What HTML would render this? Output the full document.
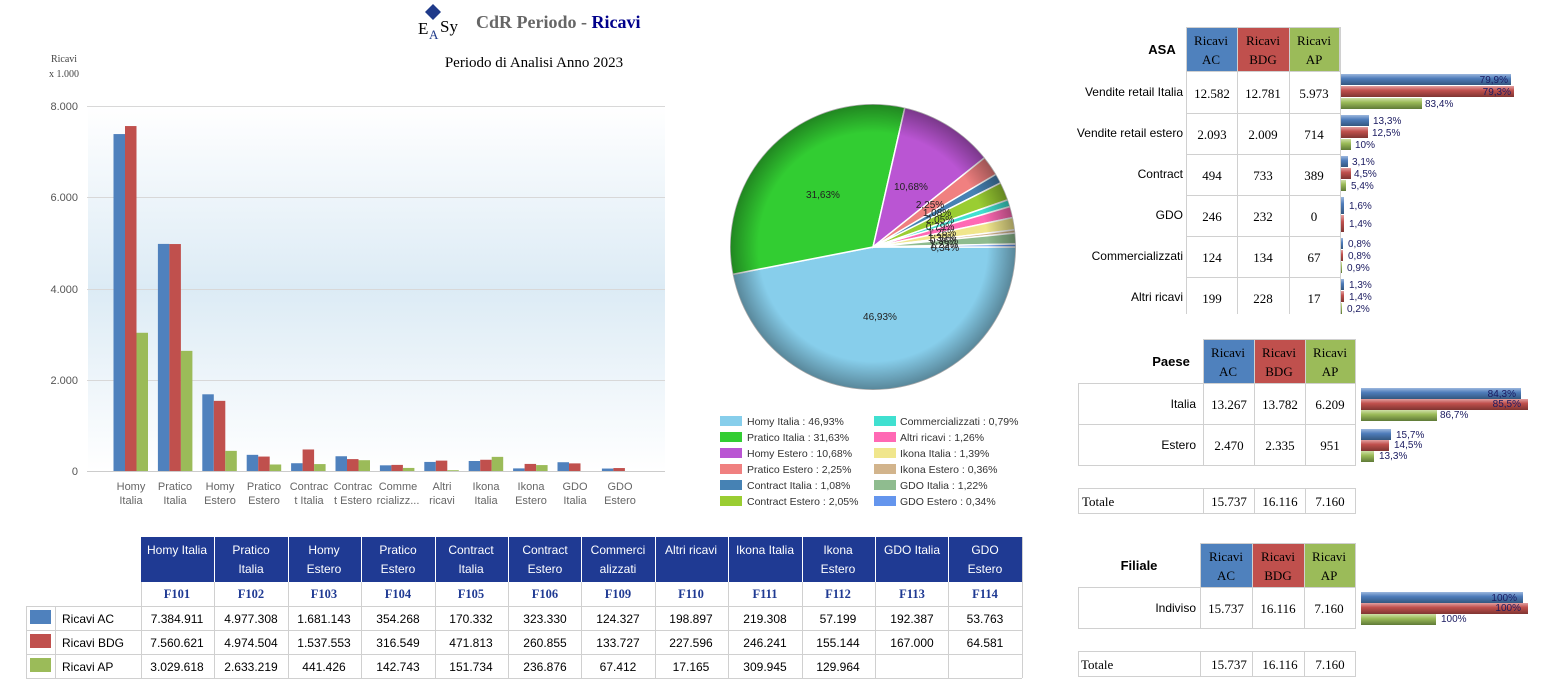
<!DOCTYPE html>
<html><head><meta charset="utf-8">
<style>
html,body{margin:0;padding:0;background:#fff;}
svg{display:block;}
.s{font-family:"Liberation Sans",sans-serif;}
.r{font-family:"Liberation Serif",serif;}
</style></head>
<body>
<svg id="sv" width="1559" height="691" viewBox="0 0 1559 691" xmlns="http://www.w3.org/2000/svg">
<defs>
<linearGradient id="bg" x1="0" y1="0" x2="0" y2="1">
<stop offset="0" stop-color="#ffffff"/><stop offset="0.5" stop-color="#dcebf5"/><stop offset="1" stop-color="#ffffff"/>
</linearGradient>
<linearGradient id="gb" x1="0" y1="0" x2="0" y2="1"><stop offset="0" stop-color="#9db8de"/><stop offset="0.4" stop-color="#4f7dbb"/><stop offset="1" stop-color="#34577f"/></linearGradient>
<linearGradient id="gr" x1="0" y1="0" x2="0" y2="1"><stop offset="0" stop-color="#e3a0a0"/><stop offset="0.4" stop-color="#c0504d"/><stop offset="1" stop-color="#7f3532"/></linearGradient>
<linearGradient id="gg" x1="0" y1="0" x2="0" y2="1"><stop offset="0" stop-color="#cfe0a8"/><stop offset="0.4" stop-color="#9bbb59"/><stop offset="1" stop-color="#5f7a38"/></linearGradient>
<radialGradient id="sh" cx="0.5" cy="0.5" r="0.5">
<stop offset="0.8" stop-color="#000" stop-opacity="0"/><stop offset="1" stop-color="#000" stop-opacity="0.35"/>
</radialGradient>
</defs>

<!-- title -->
<polygon points="433,4 441,12 433,20 425,12" fill="#1f3a8a"/>
<text x="418" y="34" class="r" font-size="17" fill="#000">E</text>
<text x="429" y="39" class="r" font-size="13" fill="#1f3a8a">A</text>
<text x="440" y="32" class="r" font-size="17" fill="#000">Sy</text>
<text x="476" y="28" class="r" font-size="18" font-weight="bold" fill="#666">CdR Periodo - <tspan fill="#00008b">Ricavi</tspan></text>
<text x="534" y="67" class="r" font-size="15" text-anchor="middle" fill="#000">Periodo di Analisi Anno 2023</text>
<text x="64" y="62" class="r" font-size="10" text-anchor="middle" fill="#444">Ricavi</text>
<text x="64" y="77" class="r" font-size="10" text-anchor="middle" fill="#444">x 1.000</text>

<!-- bar chart -->
<rect x="88" y="106" width="577" height="365" fill="url(#bg)"/>
<g stroke="#d8d8d8" stroke-width="1">
<line x1="87" y1="106.5" x2="665" y2="106.5"/><line x1="87" y1="197.5" x2="665" y2="197.5"/>
<line x1="87" y1="289.5" x2="665" y2="289.5"/><line x1="87" y1="380.5" x2="665" y2="380.5"/>
<line x1="87" y1="471.5" x2="665" y2="471.5" stroke="#ccc"/>
</g>
<g class="s" font-size="11" fill="#555" text-anchor="end">
<text x="78" y="110">8.000</text><text x="78" y="201">6.000</text><text x="78" y="293">4.000</text>
<text x="78" y="384">2.000</text><text x="78" y="475">0</text>
</g>
<g id="bars"></g>
<g class="s" font-size="11" fill="#666" text-anchor="middle">
<text x="131" y="490">Homy</text><text x="131" y="504">Italia</text>
<text x="175" y="490">Pratico</text><text x="175" y="504">Italia</text>
<text x="220" y="490">Homy</text><text x="220" y="504">Estero</text>
<text x="264" y="490">Pratico</text><text x="264" y="504">Estero</text>
<text x="309" y="490">Contrac</text><text x="309" y="504">t Italia</text>
<text x="353" y="490">Contrac</text><text x="353" y="504">t Estero</text>
<text x="398" y="490">Comme</text><text x="398" y="504">rcializz...</text>
<text x="442" y="490">Altri</text><text x="442" y="504">ricavi</text>
<text x="486" y="490">Ikona</text><text x="486" y="504">Italia</text>
<text x="531" y="490">Ikona</text><text x="531" y="504">Estero</text>
<text x="575" y="490">GDO</text><text x="575" y="504">Italia</text>
<text x="620" y="490">GDO</text><text x="620" y="504">Estero</text>
</g>

<!-- pie -->
<g id="pie"></g>
<ellipse cx="873" cy="247" rx="143" ry="143" fill="url(#sh)"/>
<g class="s" font-size="10" fill="#222" text-anchor="middle">
<text x="880" y="320">46,93%</text>
<text x="823" y="198">31,63%</text>
<text x="911" y="190">10,68%</text>
<text x="930" y="208">2,25%</text>
<text x="937" y="216">1,08%</text>
<text x="940" y="223">2,05%</text>
<text x="940" y="230">0,79%</text>
<text x="942" y="236">1,26%</text>
<text x="942" y="241">1,39%</text>
<text x="944" y="244">0,36%</text>
<text x="944" y="248">1,22%</text>
<text x="945" y="251">0,34%</text>
</g>
<!-- legend -->
<g class="s" font-size="10.5" fill="#333">
<rect x="720" y="416" width="22" height="10" fill="#87ceeb"/><text x="747" y="425">Homy Italia : 46,93%</text>
<rect x="720" y="432" width="22" height="10" fill="#32cd32"/><text x="747" y="441">Pratico Italia : 31,63%</text>
<rect x="720" y="448" width="22" height="10" fill="#ba55d3"/><text x="747" y="457">Homy Estero : 10,68%</text>
<rect x="720" y="464" width="22" height="10" fill="#f08080"/><text x="747" y="473">Pratico Estero : 2,25%</text>
<rect x="720" y="480" width="22" height="10" fill="#4682b4"/><text x="747" y="489">Contract Italia : 1,08%</text>
<rect x="720" y="496" width="22" height="10" fill="#9acd32"/><text x="747" y="505">Contract Estero : 2,05%</text>
<rect x="874" y="416" width="22" height="10" fill="#40e0d0"/><text x="900" y="425">Commercializzati : 0,79%</text>
<rect x="874" y="432" width="22" height="10" fill="#ff69b4"/><text x="900" y="441">Altri ricavi : 1,26%</text>
<rect x="874" y="448" width="22" height="10" fill="#f0e68c"/><text x="900" y="457">Ikona Italia : 1,39%</text>
<rect x="874" y="464" width="22" height="10" fill="#d2b48c"/><text x="900" y="473">Ikona Estero : 0,36%</text>
<rect x="874" y="480" width="22" height="10" fill="#8fbc8f"/><text x="900" y="489">GDO Italia : 1,22%</text>
<rect x="874" y="496" width="22" height="10" fill="#6495ed"/><text x="900" y="505">GDO Estero : 0,34%</text>
</g>

<!-- bottom table -->
<rect x="141" y="537" width="881" height="45" fill="#1f3a93"/>
<g stroke="#d0d0d0" stroke-width="1" fill="none">
<line x1="141" y1="606.5" x2="1022" y2="606.5"/>
<line x1="26" y1="606.5" x2="141" y2="606.5"/>
<line x1="26" y1="630.5" x2="1022" y2="630.5"/>
<line x1="26" y1="654.5" x2="1022" y2="654.5"/>
<line x1="26" y1="678.5" x2="1022" y2="678.5"/>
<line x1="26.5" y1="606" x2="26.5" y2="678"/>
<line x1="55.5" y1="606" x2="55.5" y2="678"/>
<line x1="141.5" y1="582" x2="141.5" y2="678"/>
<line x1="1022.5" y1="537" x2="1022.5" y2="678"/>
</g>
<g id="vlines" stroke="#d0d0d0"></g>
<g stroke="#fff" stroke-width="1">
<line x1="214.5" y1="537" x2="214.5" y2="582"/><line x1="288.5" y1="537" x2="288.5" y2="582"/>
<line x1="361.5" y1="537" x2="361.5" y2="582"/><line x1="435.5" y1="537" x2="435.5" y2="582"/>
<line x1="508.5" y1="537" x2="508.5" y2="582"/><line x1="581.5" y1="537" x2="581.5" y2="582"/>
<line x1="655.5" y1="537" x2="655.5" y2="582"/><line x1="728.5" y1="537" x2="728.5" y2="582"/>
<line x1="802.5" y1="537" x2="802.5" y2="582"/><line x1="875.5" y1="537" x2="875.5" y2="582"/>
<line x1="948.5" y1="537" x2="948.5" y2="582"/>
</g>
<g stroke="#d0d0d0">
<line x1="214.5" y1="582" x2="214.5" y2="678"/><line x1="288.5" y1="582" x2="288.5" y2="678"/>
<line x1="361.5" y1="582" x2="361.5" y2="678"/><line x1="435.5" y1="582" x2="435.5" y2="678"/>
<line x1="508.5" y1="582" x2="508.5" y2="678"/><line x1="581.5" y1="582" x2="581.5" y2="678"/>
<line x1="655.5" y1="582" x2="655.5" y2="678"/><line x1="728.5" y1="582" x2="728.5" y2="678"/>
<line x1="802.5" y1="582" x2="802.5" y2="678"/><line x1="875.5" y1="582" x2="875.5" y2="678"/>
<line x1="948.5" y1="582" x2="948.5" y2="678"/>
</g>
<g class="s" font-size="12" fill="#fff" text-anchor="middle">
<text x="177" y="554">Homy Italia</text>
<text x="251" y="554">Pratico</text><text x="251" y="573">Italia</text>
<text x="324" y="554">Homy</text><text x="324" y="573">Estero</text>
<text x="398" y="554">Pratico</text><text x="398" y="573">Estero</text>
<text x="471" y="554">Contract</text><text x="471" y="573">Italia</text>
<text x="545" y="554">Contract</text><text x="545" y="573">Estero</text>
<text x="618" y="554">Commerci</text><text x="618" y="573">alizzati</text>
<text x="691" y="554">Altri ricavi</text>
<text x="765" y="554">Ikona Italia</text>
<text x="838" y="554">Ikona</text><text x="838" y="573">Estero</text>
<text x="912" y="554">GDO Italia</text>
<text x="985" y="554">GDO</text><text x="985" y="573">Estero</text>
</g>
<g class="r" font-size="12.5" font-weight="bold" fill="#1f3a93" text-anchor="middle">
<text x="177" y="598">F101</text><text x="251" y="598">F102</text><text x="324" y="598">F103</text>
<text x="398" y="598">F104</text><text x="471" y="598">F105</text><text x="545" y="598">F106</text>
<text x="618" y="598">F109</text><text x="691" y="598">F110</text><text x="765" y="598">F111</text>
<text x="838" y="598">F112</text><text x="912" y="598">F113</text><text x="985" y="598">F114</text>
</g>
<rect x="30" y="610" width="21" height="14" fill="#4f81bd"/>
<rect x="30" y="634" width="21" height="14" fill="#c0504d"/>
<rect x="30" y="658" width="21" height="14" fill="#9bbb59"/>
<g class="s" font-size="12" fill="#000">
<text x="62" y="623">Ricavi AC</text><text x="62" y="647">Ricavi BDG</text><text x="62" y="671">Ricavi AP</text>
</g>
<g class="s" font-size="12" fill="#000" text-anchor="middle">
<text x="177" y="623">7.384.911</text><text x="251" y="623">4.977.308</text><text x="324" y="623">1.681.143</text><text x="398" y="623">354.268</text><text x="471" y="623">170.332</text><text x="545" y="623">323.330</text><text x="618" y="623">124.327</text><text x="691" y="623">198.897</text><text x="765" y="623">219.308</text><text x="838" y="623">57.199</text><text x="912" y="623">192.387</text><text x="985" y="623">53.763</text>
<text x="177" y="647">7.560.621</text><text x="251" y="647">4.974.504</text><text x="324" y="647">1.537.553</text><text x="398" y="647">316.549</text><text x="471" y="647">471.813</text><text x="545" y="647">260.855</text><text x="618" y="647">133.727</text><text x="691" y="647">227.596</text><text x="765" y="647">246.241</text><text x="838" y="647">155.144</text><text x="912" y="647">167.000</text><text x="985" y="647">64.581</text>
<text x="177" y="671">3.029.618</text><text x="251" y="671">2.633.219</text><text x="324" y="671">441.426</text><text x="398" y="671">142.743</text><text x="471" y="671">151.734</text><text x="545" y="671">236.876</text><text x="618" y="671">67.412</text><text x="691" y="671">17.165</text><text x="765" y="671">309.945</text><text x="838" y="671">129.964</text>
</g>

<!-- ASA table -->
<rect x="1186" y="27" width="51" height="45" fill="#4f81bd"/>
<rect x="1237" y="27" width="52" height="45" fill="#c0504d"/>
<rect x="1289" y="27" width="51" height="45" fill="#9bbb59"/>
<g stroke="#d0d0d0" fill="none">
<rect x="1186.5" y="27.5" width="153" height="44"/>
<line x1="1186.5" y1="72" x2="1186.5" y2="314"/><line x1="1237.5" y1="27" x2="1237.5" y2="314"/>
<line x1="1289.5" y1="27" x2="1289.5" y2="314"/><line x1="1340.5" y1="27" x2="1340.5" y2="314"/>
<line x1="1186" y1="113.5" x2="1340" y2="113.5"/><line x1="1186" y1="154.5" x2="1340" y2="154.5"/>
<line x1="1186" y1="195.5" x2="1340" y2="195.5"/><line x1="1186" y1="236.5" x2="1340" y2="236.5"/>
<line x1="1186" y1="277.5" x2="1340" y2="277.5"/>
</g>
<g class="r" font-size="13" fill="#000" text-anchor="middle">
<text x="1211" y="45">Ricavi</text><text x="1211" y="64">AC</text>
<text x="1263" y="45">Ricavi</text><text x="1263" y="64">BDG</text>
<text x="1314" y="45">Ricavi</text><text x="1314" y="64">AP</text>
</g>
<text x="1162" y="54" class="s" font-size="13" font-weight="bold" text-anchor="middle">ASA</text>
<g class="s" font-size="12" fill="#000" text-anchor="end">
<text x="1183" y="96">Vendite retail Italia</text><text x="1183" y="137">Vendite retail estero</text>
<text x="1183" y="178">Contract</text><text x="1183" y="219">GDO</text>
<text x="1183" y="260">Commercializzati</text><text x="1183" y="301">Altri ricavi</text>
</g>
<g class="r" font-size="13" fill="#000" text-anchor="middle">
<text x="1212" y="98">12.582</text><text x="1263" y="98">12.781</text><text x="1314" y="98">5.973</text>
<text x="1212" y="139">2.093</text><text x="1263" y="139">2.009</text><text x="1314" y="139">714</text>
<text x="1212" y="180">494</text><text x="1263" y="180">733</text><text x="1314" y="180">389</text>
<text x="1212" y="221">246</text><text x="1263" y="221">232</text><text x="1314" y="221">0</text>
<text x="1212" y="262">124</text><text x="1263" y="262">134</text><text x="1314" y="262">67</text>
<text x="1212" y="303">199</text><text x="1263" y="303">228</text><text x="1314" y="303">17</text>
</g>
<g>
<rect x="1341" y="74" width="170" height="11" fill="url(#gb)"/><rect x="1341" y="86" width="173" height="11" fill="url(#gr)"/><rect x="1341" y="98" width="81" height="11" fill="url(#gg)"/>
<rect x="1341" y="115" width="28" height="11" fill="url(#gb)"/><rect x="1341" y="127" width="27" height="11" fill="url(#gr)"/><rect x="1341" y="139" width="10" height="11" fill="url(#gg)"/>
<rect x="1341" y="156" width="7" height="11" fill="url(#gb)"/><rect x="1341" y="168" width="10" height="11" fill="url(#gr)"/><rect x="1341" y="180" width="5" height="11" fill="url(#gg)"/>
<rect x="1341" y="197" width="3" height="17" fill="url(#gb)"/><rect x="1341" y="215" width="3" height="17" fill="url(#gr)"/>
<rect x="1341" y="238" width="2" height="11" fill="url(#gb)"/><rect x="1341" y="250" width="2" height="11" fill="url(#gr)"/><rect x="1341" y="262" width="1" height="11" fill="url(#gg)"/>
<rect x="1341" y="279" width="3" height="11" fill="url(#gb)"/><rect x="1341" y="291" width="3" height="11" fill="url(#gr)"/><rect x="1341" y="303" width="1" height="11" fill="url(#gg)"/>
</g>
<g class="s" font-size="10" fill="#1a1a60">
<text x="1508" y="83" text-anchor="end">79,9%</text><text x="1511" y="95" text-anchor="end">79,3%</text><text x="1425" y="107">83,4%</text>
<text x="1373" y="124">13,3%</text><text x="1372" y="136">12,5%</text><text x="1355" y="148">10%</text>
<text x="1352" y="165">3,1%</text><text x="1354" y="177">4,5%</text><text x="1351" y="189">5,4%</text>
<text x="1349" y="209">1,6%</text><text x="1349" y="227">1,4%</text>
<text x="1348" y="247">0,8%</text><text x="1348" y="259">0,8%</text><text x="1347" y="271">0,9%</text>
<text x="1349" y="288">1,3%</text><text x="1349" y="300">1,4%</text><text x="1347" y="312">0,2%</text>
</g>

<!-- Paese table -->
<rect x="1203" y="339" width="51" height="44" fill="#4f81bd"/>
<rect x="1254" y="339" width="51" height="44" fill="#c0504d"/>
<rect x="1305" y="339" width="51" height="44" fill="#9bbb59"/>
<g stroke="#d0d0d0" fill="none">
<rect x="1203.5" y="339.5" width="152" height="44"/>
<rect x="1078.5" y="383.5" width="277" height="82"/>
<line x1="1078" y1="424.5" x2="1356" y2="424.5"/>
<line x1="1203.5" y1="383" x2="1203.5" y2="465"/><line x1="1254.5" y1="339" x2="1254.5" y2="465"/><line x1="1305.5" y1="339" x2="1305.5" y2="465"/>
<rect x="1078.5" y="488.5" width="277" height="25"/>
<line x1="1203.5" y1="488" x2="1203.5" y2="513"/><line x1="1254.5" y1="488" x2="1254.5" y2="513"/><line x1="1305.5" y1="488" x2="1305.5" y2="513"/>
</g>
<g class="r" font-size="13" fill="#000" text-anchor="middle">
<text x="1228" y="357">Ricavi</text><text x="1228" y="376">AC</text>
<text x="1279" y="357">Ricavi</text><text x="1279" y="376">BDG</text>
<text x="1330" y="357">Ricavi</text><text x="1330" y="376">AP</text>
<text x="1229" y="409">13.267</text><text x="1280" y="409">13.782</text><text x="1330" y="409">6.209</text>
<text x="1229" y="450">2.470</text><text x="1280" y="450">2.335</text><text x="1330" y="450">951</text>
<text x="1229" y="506">15.737</text><text x="1280" y="506">16.116</text><text x="1330" y="506">7.160</text>
</g>
<text x="1082" y="506" class="r" font-size="13">Totale</text>
<text x="1171" y="366" class="s" font-size="13" font-weight="bold" text-anchor="middle">Paese</text>
<g class="s" font-size="12" text-anchor="end"><text x="1196" y="408">Italia</text><text x="1196" y="449">Estero</text></g>
<rect x="1361" y="388" width="160" height="11" fill="url(#gb)"/><rect x="1361" y="399" width="167" height="11" fill="url(#gr)"/><rect x="1361" y="410" width="76" height="11" fill="url(#gg)"/>
<rect x="1361" y="429" width="30" height="11" fill="url(#gb)"/><rect x="1361" y="440" width="28" height="11" fill="url(#gr)"/><rect x="1361" y="451" width="13" height="11" fill="url(#gg)"/>
<g class="s" font-size="10" fill="#1a1a60">
<text x="1516" y="397" text-anchor="end">84,3%</text><text x="1521" y="407" text-anchor="end">85,5%</text><text x="1440" y="418">86,7%</text>
<text x="1396" y="438">15,7%</text><text x="1394" y="448">14,5%</text><text x="1379" y="459">13,3%</text>
</g>

<!-- Filiale -->
<rect x="1200" y="543" width="52" height="44" fill="#4f81bd"/>
<rect x="1252" y="543" width="52" height="44" fill="#c0504d"/>
<rect x="1304" y="543" width="51" height="44" fill="#9bbb59"/>
<g stroke="#d0d0d0" fill="none">
<rect x="1200.5" y="543.5" width="155" height="44"/>
<rect x="1078.5" y="587.5" width="277" height="41"/>
<line x1="1200.5" y1="587" x2="1200.5" y2="628"/><line x1="1252.5" y1="543" x2="1252.5" y2="628"/><line x1="1304.5" y1="543" x2="1304.5" y2="628"/>
<rect x="1078.5" y="651.5" width="277" height="25"/>
<line x1="1200.5" y1="651" x2="1200.5" y2="676"/><line x1="1252.5" y1="651" x2="1252.5" y2="676"/><line x1="1304.5" y1="651" x2="1304.5" y2="676"/>
</g>
<g class="r" font-size="13" fill="#000" text-anchor="middle">
<text x="1226" y="561">Ricavi</text><text x="1226" y="580">AC</text>
<text x="1278" y="561">Ricavi</text><text x="1278" y="580">BDG</text>
<text x="1329" y="561">Ricavi</text><text x="1329" y="580">AP</text>
<text x="1226" y="613">15.737</text><text x="1278" y="613">16.116</text><text x="1329" y="613">7.160</text>
<text x="1229" y="669">15.737</text><text x="1280" y="669">16.116</text><text x="1330" y="669">7.160</text>
</g>
<text x="1081" y="669" class="r" font-size="13">Totale</text>
<text x="1139" y="570" class="s" font-size="13" font-weight="bold" text-anchor="middle">Filiale</text>
<text x="1196" y="612" class="s" font-size="12" text-anchor="end">Indiviso</text>
<rect x="1361" y="592" width="162" height="11" fill="url(#gb)"/><rect x="1361" y="603" width="167" height="11" fill="url(#gr)"/><rect x="1361" y="614" width="75" height="11" fill="url(#gg)"/>
<g class="s" font-size="10" fill="#1a1a60">
<text x="1517" y="601" text-anchor="end">100%</text><text x="1521" y="611" text-anchor="end">100%</text><text x="1441" y="622">100%</text>
</g>
</svg>
<script>
(function(){
var NS="http://www.w3.org/2000/svg";
var ac=[7384.911,4977.308,1681.143,354.268,170.332,323.330,124.327,198.897,219.308,57.199,192.387,53.763];
var bd=[7560.621,4974.504,1537.553,316.549,471.813,260.855,133.727,227.596,246.241,155.144,167.000,64.581];
var ap=[3029.618,2633.219,441.426,142.743,151.734,236.876,67.412,17.165,309.945,129.964,0,0];
var g=document.getElementById("bars");
function r(x,v,c){if(v<=0)return;var h=v*0.045625;var e=document.createElementNS(NS,"rect");
e.setAttribute("x",x);e.setAttribute("y",471-h);e.setAttribute("width",11.5);e.setAttribute("height",h);e.setAttribute("fill",c);g.appendChild(e);}
for(var i=0;i<12;i++){var c=131+44.4*i;r(c-17.5,ac[i],"#4f81bd");r(c-6,bd[i],"#c0504d");r(c+5.5,ap[i],"#9bbb59");}
var p=[46.93,31.63,10.68,2.25,1.08,2.05,0.79,1.26,1.39,0.36,1.22,0.34];
var col=["#87ceeb","#32cd32","#ba55d3","#f08080","#4682b4","#9acd32","#40e0d0","#ff69b4","#f0e68c","#d2b48c","#8fbc8f","#6495ed"];
var tot=0;p.forEach(function(v){tot+=v;});
var cx=873,cy=247,R=143,a=0,pg=document.getElementById("pie");
for(var j=0;j<p.length;j++){var a2=a+p[j]/tot*2*Math.PI;
var x1=cx+R*Math.cos(a),y1=cy+R*Math.sin(a),x2=cx+R*Math.cos(a2),y2=cy+R*Math.sin(a2);
var d="M"+cx+","+cy+" L"+x1+","+y1+" A"+R+","+R+" 0 "+((a2-a)>Math.PI?1:0)+" 1 "+x2+","+y2+" Z";
var e=document.createElementNS(NS,"path");e.setAttribute("d",d);e.setAttribute("fill",col[j]);e.setAttribute("stroke","#fff");e.setAttribute("stroke-width","1.5");pg.appendChild(e);a=a2;}
})();
</script>
</body></html>
